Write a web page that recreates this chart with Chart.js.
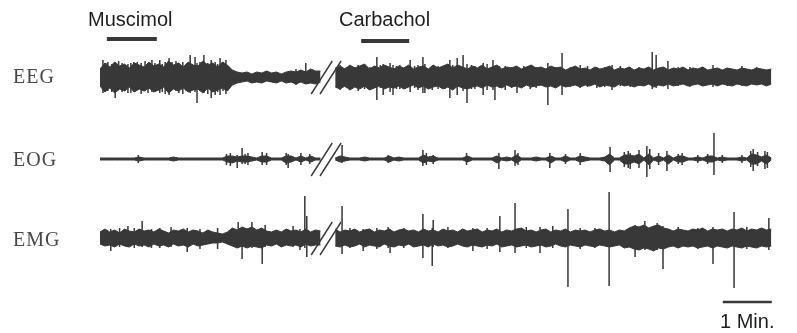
<!DOCTYPE html>
<html>
<head>
<meta charset="utf-8">
<title>EEG / EOG / EMG</title>
<script src="https://cdn.jsdelivr.net/npm/chart.js@4.4.1/dist/chart.umd.min.js"></script>
<style>
body{margin:0;background:#fff;}
#wrap{position:relative;width:797px;height:333px;overflow:hidden;}
#wrap canvas{position:absolute;left:0;top:0;}
.lbl{position:absolute;white-space:nowrap;line-height:1;}
.ch{font-family:"Liberation Serif","Times New Roman",serif;font-size:20px;color:#474747;letter-spacing:1px;}
.drug{font-family:"Liberation Sans",Arial,sans-serif;font-size:20px;color:#1e1e1e;}
</style>
</head>
<body>
<div id="wrap">
  <canvas id="traces" width="797" height="333"></canvas>
  <div class="lbl drug" style="left:88px;top:9px">Muscimol</div>
  <div class="lbl drug" style="left:339px;top:9px">Carbachol</div>
  <div class="lbl ch" style="left:13px;top:66px">EEG</div>
  <div class="lbl ch" style="left:13px;top:149px">EOG</div>
  <div class="lbl ch" style="left:13px;top:229px">EMG</div>
  <div class="lbl drug" style="left:720px;top:311px">1 Min.</div>
</div>
<script>
// one envelope sample every 0.1 min, amplitudes in a.u. (positive = up), null = cut in the record
var STEP = 0.1;

var EEG_HI = [
  8,14,10,15,11,13,9,14,12,10,
  15,11,13,10,16,12,14,10,15,12,
  11,16,12,14,10,15,12,7,5,4,
  5,3,5,4,6,4,5,3,5,6,
  5,7,5,8,6,6,null,null,9,11,
  8,12,9,11,13,8,11,9,12,10,
  8,11,9,12,8,10,11,8,12,9,
  11,13,9,12,10,8,11,9,12,8,
  10,12,8,10,9,11,8,10,12,9,
  10,8,11,9,10,7,9,11,8,9,
  7,10,8,9,11,7,9,8,10,7,
  9,8,10,7,9,10,7,9,8,10,
  7,9,8,10,7,8,9,7,9,8,
  7,9,8,7,9,8,7,8
];
var EEG_LO = [
  -9,-15,-11,-16,-12,-14,-10,-15,-12,-14,
  -11,-15,-13,-10,-16,-12,-14,-11,-15,-13,
  -12,-16,-11,-15,-13,-11,-14,-8,-6,-5,
  -4,-6,-5,-6,-4,-5,-6,-4,-6,-5,
  -7,-5,-7,-6,-7,-5,null,null,-10,-12,
  -9,-13,-10,-12,-9,-13,-11,-9,-12,-10,
  -11,-9,-12,-10,-8,-11,-9,-12,-10,-9,
  -12,-10,-13,-9,-11,-12,-10,-9,-11,-8,
  -10,-9,-11,-8,-10,-9,-11,-8,-10,-9,
  -8,-10,-9,-11,-8,-10,-9,-8,-10,-8,
  -9,-7,-10,-8,-9,-10,-7,-9,-8,-10,
  -8,-9,-7,-10,-8,-9,-7,-9,-8,-7,
  -9,-8,-7,-9,-8,-7,-9,-7,-8,-9,
  -7,-8,-9,-7,-8,-7,-9,-7
];
// [time (min), top, bottom]
var EEG_SPIKES = [
  [0.06,17,-16],[0.12,14,-12],[0.16,15,-14],[0.24,13,-15],[0.31,15,-21],[0.38,16,-13],
  [0.45,14,-15],[0.51,12,-14],[0.57,13,-16],[0.63,14,-16],[0.69,15,-15],[0.76,15,-13],
  [0.84,14,-17],[0.92,16,-14],[0.98,13,-16],[1.06,17,-15],[1.12,14,-13],[1.22,17,-16],
  [1.27,13,-15],[1.33,15,-17],[1.41,19,-18],[1.47,15,-13],[1.55,16,-14],[1.61,14,-16],
  [1.69,15,-17],[1.76,13,-14],[1.84,22,-16],[1.94,20,-15],[1.98,14,-26],[2.04,15,-14],
  [2.12,22,-16],[2.20,14,-17],[2.27,17,-21],[2.35,15,-18],[2.40,13,-15],[2.45,19,-18],
  [2.51,15,-14],[2.57,17,-17],[4.0,8,-8],[4.20,14,-7],
  [4.90,12,-13],[5.03,10,-11],[5.10,11,-12],[5.19,10,-10],[5.27,12,-14],[5.40,11,-12],
  [5.51,10,-13],[5.65,20,-23],[5.72,12,-11],[5.78,13,-18],[5.92,14,-15],[5.98,12,-18],
  [6.05,11,-12],[6.12,12,-12],[6.22,10,-12],[6.33,17,-15],[6.42,11,-11],[6.49,12,-13],
  [6.59,20,-16],[6.63,13,-16],[6.78,11,-13],[6.90,11,-12],[7.04,10,-12],[7.14,17,-21],
  [7.20,12,-11],[7.29,19,-18],[7.41,22,-14],[7.49,13,-26],[7.58,12,-12],[7.65,11,-12],
  [7.82,14,-18],[7.90,13,-13],[8.02,17,-13],[8.06,11,-23],[8.15,11,-11],[8.27,11,-13],
  [8.40,10,-11],[8.51,10,-16],[8.65,11,-10],[8.78,10,-12],[8.90,10,-11],[9.14,14,-28],
  [9.30,10,-10],[9.43,24,-18],[9.60,10,-10],[9.80,12,-11],[9.95,11,-10],[10.14,10,-11],
  [10.30,10,-10],[10.45,12,-13],[10.62,11,-9],[10.82,10,-10],[11.0,10,-9],[11.27,25,-12],
  [11.35,22,-11],[11.59,16,-12],[11.8,10,-9],[12.04,10,-10],[12.3,10,-9],[12.51,12,-10],
  [12.8,9,-9],[13.10,11,-9],[13.4,10,-8]
];

var EOG_HI = [
  1,1,1,1,1,1,1,1,2,1,
  1,1,1,1,1,2,1,1,1,1,
  1,1,1,1,1,1,3,3,2,3,
  3,2,1,3,3,1,1,1,3,3,
  1,3,1,3,1,1,null,null,1,3,
  2,1,1,1,2,1,1,1,1,3,
  1,2,1,1,1,1,4,2,3,1,
  1,1,1,1,1,3,1,1,1,1,
  1,3,1,2,1,4,1,1,1,2,
  1,1,3,1,1,3,1,1,3,2,
  1,1,1,2,5,1,1,4,4,3,
  5,1,5,1,3,1,4,1,3,3,
  1,1,2,1,3,3,1,2,1,1,
  1,2,1,5,4,2,4,1
];
var EOG_LO = [
  -1,-1,-1,-1,-1,-1,-1,-1,-2,-1,
  -1,-1,-1,-1,-1,-2,-1,-1,-1,-1,
  -1,-1,-1,-1,-1,-1,-3,-4,-2,-3,
  -3,-2,-1,-3,-3,-1,-1,-1,-4,-3,
  -1,-3,-1,-3,-1,-1,null,null,-1,-3,
  -2,-1,-1,-1,-2,-1,-1,-1,-1,-3,
  -1,-2,-1,-1,-1,-1,-4,-2,-3,-1,
  -1,-1,-1,-1,-1,-3,-1,-1,-1,-1,
  -1,-4,-1,-2,-1,-4,-1,-1,-1,-2,
  -1,-1,-4,-1,-1,-3,-1,-1,-3,-2,
  -1,-1,-1,-2,-6,-1,-1,-5,-5,-3,
  -5,-1,-6,-1,-3,-1,-5,-1,-3,-3,
  -1,-1,-2,-1,-3,-3,-1,-2,-1,-1,
  -1,-2,-1,-5,-5,-2,-5,-1
];
var EOG_SPIKES = [
  [0.78,4,-4],[2.58,5,-6],[2.66,6,-7],[2.80,4,-9],[2.90,11,-5],[2.96,5,-5],[3.02,6,-6],
  [3.31,7,-6],[3.40,6,-6],[3.80,6,-6],[3.84,5,-9],[4.10,6,-6],[4.28,5,-5],[4.94,14,-4],
  [5.88,4,-4],[6.59,9,-7],[6.66,6,-6],[6.80,4,-5],[7.48,6,-6],[8.14,6,-10],[8.47,9,-7],
  [8.53,6,-6],[9.18,6,-9],[9.50,5,-5],[9.80,6,-6],[10.41,12,-13],[10.70,7,-8],[10.78,8,-9],
  [10.82,6,-10],[11.0,9,-9],[11.16,13,-18],[11.22,10,-10],[11.40,6,-6],[11.57,8,-12],
  [11.80,5,-5],[11.88,6,-6],[12.20,4,-4],[12.40,5,-5],[12.53,26,-16],[12.70,4,-4],
  [13.10,4,-4],[13.28,8,-8],[13.33,10,-12],[13.42,7,-7],[13.57,8,-10],[13.62,7,-9]
];

var EMG_HI = [
  6,9,6,8,5,9,7,6,9,7,
  8,6,9,7,5,8,7,9,6,8,
  7,5,8,6,5,4,6,10,8,11,
  9,11,8,10,7,6,8,6,9,7,
  8,6,9,6,8,7,null,null,9,6,
  8,7,9,6,8,9,6,8,7,9,
  6,8,9,7,8,6,9,7,8,6,
  9,7,8,6,9,7,8,9,6,8,
  7,9,6,8,7,9,10,7,8,6,
  8,9,6,8,7,9,6,8,7,8,
  6,8,9,7,8,6,8,7,10,12,
  11,13,10,12,13,10,9,7,9,8,
  7,9,8,10,7,9,8,9,7,9,
  8,10,7,9,8,10,8,9
];
var EMG_LO = [
  -6,-8,-7,-9,-6,-8,-9,-6,-8,-7,
  -9,-6,-8,-7,-9,-6,-8,-7,-9,-6,
  -8,-7,-6,-5,-5,-4,-6,-8,-10,-8,
  -10,-8,-9,-10,-7,-8,-6,-9,-7,-8,
  -7,-9,-6,-8,-7,-7,null,null,-8,-9,
  -7,-9,-8,-6,-9,-7,-8,-9,-6,-8,
  -9,-7,-8,-6,-9,-8,-7,-9,-6,-8,
  -7,-9,-8,-6,-8,-9,-7,-8,-9,-7,
  -8,-6,-9,-8,-7,-9,-8,-7,-9,-8,
  -7,-9,-8,-6,-8,-9,-7,-8,-9,-7,
  -8,-9,-7,-8,-9,-8,-7,-10,-9,-11,
  -12,-10,-11,-13,-10,-11,-9,-8,-10,-8,
  -9,-8,-10,-9,-8,-10,-8,-9,-10,-8,
  -9,-10,-8,-9,-10,-8,-9,-8
];
var EMG_SPIKES = [
  [0.22,9,-13],[0.40,10,-9],[0.57,12,-9],[0.70,10,-10],[0.86,17,-9],[1.05,9,-10],
  [1.22,10,-10],[1.45,11,-9],[1.78,10,-14],[2.04,9,-11],[2.40,10,-11],[2.82,16,-10],
  [2.90,10,-21],[3.10,16,-10],[3.31,10,-26],[3.37,13,-9],[3.94,12,-9],[4.08,9,-12],
  [4.18,42,-10],[4.22,22,-19],[4.94,32,-16],[5.10,10,-10],[5.37,9,-13],[5.65,10,-11],
  [5.88,11,-10],[5.92,9,-15],[6.2,10,-10],[6.59,24,-20],[6.78,10,-28],[6.80,18,-9],
  [7.1,11,-10],[7.61,10,-13],[7.9,10,-11],[8.16,22,-14],[8.47,35,-15],[8.7,11,-10],
  [8.98,11,-15],[9.24,12,-10],[9.55,29,-49],[9.8,10,-11],[10.1,10,-10],[10.39,46,-48],
  [10.92,13,-19],[11.12,17,-12],[11.37,15,-12],[11.49,12,-31],[11.8,11,-10],[12.2,10,-11],
  [12.51,11,-26],[12.94,26,-50],[13.2,11,-11],[13.65,20,-12]
];

// drug application periods (min) and the cut in the record
var MUSCIMOL = [0.14, 1.16];
var CARBACHOL = [5.33, 6.31];
var BREAK_AT = [4.31, 4.49];
var SCALE_MIN = [12.71, 13.71];
var CAL_BAR = 31;

var INK = '#383838';
var OFF = { eeg: -77, eog: -159, emg: -238 };
var CAL_TOP = { eeg: 15, eog: 11, emg: 13 };
var CAL_T = 14.18;

function band(vals, off){
  var out = [];
  for(var i=0;i<vals.length;i++){
    out.push({x: +(i*STEP).toFixed(2), y: vals[i]==null ? null : off + vals[i]});
  }
  return out;
}

function spikes(list, off){
  var out = [];
  for(var i=0;i<list.length;i++){
    var s = list[i];
    out.push({x:s[0], y:off+s[1]});
    out.push({x:s[0], y:off+s[2]});
    out.push({x:s[0], y:null});
  }
  return out;
}

function slashes(off){
  var out = [];
  for(var i=0;i<BREAK_AT.length;i++){
    out.push({x:BREAK_AT[i], y:off-17});
    out.push({x:BREAK_AT[i]+0.43, y:off+16});
    out.push({x:BREAK_AT[i], y:null});
  }
  return out;
}

function seg(pts, w){
  return { data: pts, borderColor: INK, borderWidth: w, pointRadius: 0, fill: false, spanGaps: false, tension: 0 };
}

var datasets = [];
var names = ['eeg','eog','emg'];
var his = [EEG_HI, EOG_HI, EMG_HI];
var los = [EEG_LO, EOG_LO, EMG_LO];
var spk = [EEG_SPIKES, EOG_SPIKES, EMG_SPIKES];
for(var k=0;k<3;k++){
  var off = OFF[names[k]];
  datasets.push({ data: band(his[k], off), borderColor: INK, backgroundColor: INK, borderWidth: 1,
    pointRadius: 0, fill: '+1', spanGaps: false, tension: 0 });
  datasets.push({ data: band(los[k], off), borderColor: INK, borderWidth: 1,
    pointRadius: 0, fill: false, spanGaps: false, tension: 0 });
  datasets.push(seg(spikes(spk[k], off), 1.5));
  datasets.push(seg(slashes(off), 1.4));
  var top = off + CAL_TOP[names[k]];
  datasets.push(seg([{x:CAL_T, y:top}, {x:CAL_T, y:top-CAL_BAR}], 2.5));
}
datasets.push(seg([{x:MUSCIMOL[0], y:-39}, {x:MUSCIMOL[1], y:-39}], 4));
datasets.push(seg([{x:CARBACHOL[0], y:-41}, {x:CARBACHOL[1], y:-41}], 4));
datasets.push(seg([{x:SCALE_MIN[0], y:-302}, {x:SCALE_MIN[1], y:-302}], 2.5));

new Chart(document.getElementById('traces').getContext('2d'), {
  type: 'line',
  data: { datasets: datasets },
  options: {
    responsive: false,
    animation: false,
    devicePixelRatio: 1,
    layout: { padding: 0 },
    plugins: { legend: { display: false }, tooltip: { enabled: false } },
    scales: {
      x: { type: 'linear', display: false, min: -100/49, max: 697/49 },
      y: { type: 'linear', display: false, min: -333, max: 0 }
    }
  }
});
</script>
</body>
</html>
